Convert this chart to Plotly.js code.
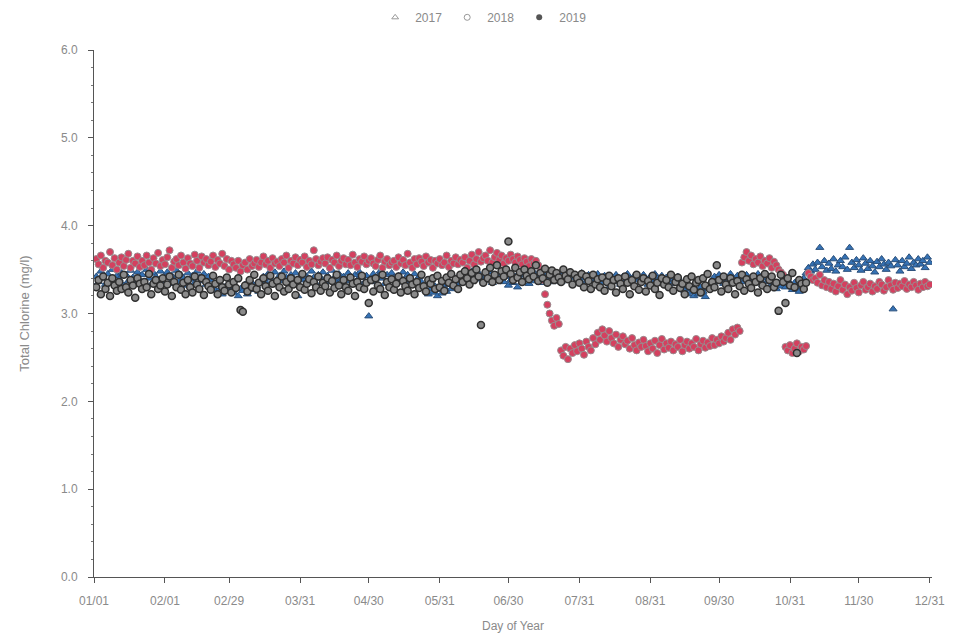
<!DOCTYPE html>
<html>
<head>
<meta charset="utf-8">
<script src="https://cdn.plot.ly/plotly-3.0.1.min.js"></script>
<style>html,body{margin:0;padding:0;background:#fff;}#chart{width:967px;height:641px;}</style>
</head>
<body>
<div id="chart"></div>
<script>
// Day of year offset (01/01 = 0), one reading per day
var days = [
  1,2,3,4,5,6,7,8,9,10, 11,12,13,14,15,16,17,18,19,20,
  21,22,23,24,25,26,27,28,29,30, 31,32,33,34,35,36,37,38,39,40,
  41,42,43,44,45,46,47,48,49,50, 51,52,53,54,55,56,57,58,59,60,
  61,62,63,64,65,66,67,68,69,70, 71,72,73,74,75,76,77,78,79,80,
  81,82,83,84,85,86,87,88,89,90, 91,92,93,94,95,96,97,98,99,100,
  101,102,103,104,105,106,107,108,109,110, 111,112,113,114,115,116,117,118,119,120,
  121,122,123,124,125,126,127,128,129,130, 131,132,133,134,135,136,137,138,139,140,
  141,142,143,144,145,146,147,148,149,150, 151,152,153,154,155,156,157,158,159,160,
  161,162,163,164,165,166,167,168,169,170, 171,172,173,174,175,176,177,178,179,180,
  181,182,183,184,185,186,187,188,189,190, 191,192,193,194,195,196,197,198,199,200,
  201,202,203,204,205,206,207,208,209,210, 211,212,213,214,215,216,217,218,219,220,
  221,222,223,224,225,226,227,228,229,230, 231,232,233,234,235,236,237,238,239,240,
  241,242,243,244,245,246,247,248,249,250, 251,252,253,254,255,256,257,258,259,260,
  261,262,263,264,265,266,267,268,269,270, 271,272,273,274,275,276,277,278,279,280,
  281,282,283,284,285,286,287,288,289,290, 291,292,293,294,295,296,297,298,299,300,
  301,302,303,304,305,306,307,308,309,310, 311,312,313,314,315,316,317,318,319,320,
  321,322,323,324,325,326,327,328,329,330, 331,332,333,334,335,336,337,338,339,340,
  341,342,343,344,345,346,347,348,349,350, 351,352,353,354,355,356,357,358,359,360,
  361,362,363,364,365
];

var y2017 = [
  3.42,3.36,3.48,3.40,3.33,3.45,3.38,3.50,3.35,3.43, 3.39,3.46,3.32,3.44,3.37,3.49,3.41,3.34,3.47,3.38,
  3.44,3.36,3.50,3.40,3.33,3.46,3.42,3.37,3.48,3.35, 3.41,3.47,3.34,3.43,3.38,3.49,3.36,3.44,3.40,3.32,
  3.46,3.39,3.43,3.35,3.48,3.41,3.37,3.45,3.33,3.42, 3.38,3.30,3.26,3.34,3.28,3.22,3.30,3.25,3.32,3.27,
  3.24,3.30,3.20,3.28,3.26,3.33,3.22,3.29,3.35,3.27, 3.31,3.25,3.38,3.42,3.36,3.45,3.40,3.34,3.47,3.39,
  3.43,3.37,3.48,3.41,3.35,3.44,3.40,3.46,3.20,3.38, 3.45,3.39,3.42,3.36,3.48,3.41,3.34,3.44,3.40,3.47,
  3.38,3.43,3.36,3.49,3.41,3.35,3.45,3.39,3.42,3.37, 3.46,3.40,3.33,3.44,3.38,3.47,3.41,3.35,3.43,2.97,
  3.39,3.45,3.36,3.42,3.48,3.40,3.34,3.44,3.38,3.46, 3.41,3.35,3.43,3.39,3.47,3.37,3.44,3.40,3.33,3.45,
  3.38,3.42,3.36,3.30,3.26,3.22,3.28,3.24,3.31,3.20, 3.27,3.23,3.30,3.25,3.33,3.28,3.36,3.40,3.34,3.43,
  3.38,3.45,3.40,3.36,3.48,3.42,3.39,3.46,3.41,3.37, 3.44,3.40,3.47,3.35,3.43,3.38,3.45,3.41,3.36,3.42,
  3.32,3.38,3.35,3.42,3.30,3.40,3.36,3.44,3.39,3.34, 3.41,3.37,3.45,3.40,3.35,3.43,3.38,3.46,3.41,3.36,
  3.44,3.39,3.42,3.36,3.47,3.40,3.38,3.45,3.41,3.35, 3.43,3.38,3.46,3.40,3.36,3.44,3.39,3.42,3.37,3.45,
  3.40,3.35,3.43,3.38,3.30,3.41,3.36,3.44,3.39,3.33, 3.42,3.37,3.45,3.40,3.34,3.43,3.38,3.41,3.36,3.44,
  3.39,3.33,3.42,3.37,3.45,3.40,3.35,3.43,3.38,3.41, 3.36,3.44,3.39,3.34,3.42,3.37,3.30,3.26,3.22,3.28,
  3.24,3.20,3.27,3.22,3.30,3.25,3.19,3.28,3.33,3.38, 3.42,3.36,3.44,3.39,3.34,3.41,3.37,3.45,3.40,3.35,
  3.43,3.38,3.41,3.36,3.44,3.40,3.34,3.42,3.37,3.45, 3.38,3.33,3.40,3.36,3.30,3.38,3.34,3.28,3.35,3.31,
  3.36,3.30,3.38,3.33,3.27,3.35,3.30,3.25,3.32,3.40, 3.46,3.52,3.48,3.56,3.50,3.58,3.75,3.53,3.60,3.49,
  3.57,3.51,3.62,3.48,3.55,3.60,3.53,3.64,3.50,3.75, 3.58,3.52,3.61,3.55,3.49,3.63,3.57,3.51,3.60,3.54,
  3.47,3.59,3.53,3.62,3.56,3.50,3.58,3.54,3.05,3.61, 3.55,3.48,3.60,3.53,3.57,3.64,3.51,3.58,3.55,3.62,
  3.56,3.60,3.52,3.64,3.58
];

var y2018 = [
  3.62,3.56,3.66,3.52,3.60,3.58,3.70,3.55,3.63,3.50, 3.58,3.64,3.54,3.61,3.68,3.52,3.60,3.57,3.65,3.53,
  3.60,3.55,3.66,3.58,3.50,3.63,3.57,3.69,3.54,3.61, 3.56,3.64,3.72,3.52,3.59,3.62,3.55,3.66,3.58,3.51,
  3.63,3.57,3.54,3.67,3.60,3.52,3.65,3.58,3.62,3.55, 3.59,3.66,3.53,3.61,3.57,3.68,3.54,3.62,3.50,3.60,
  3.56,3.52,3.60,3.48,3.55,3.58,3.50,3.62,3.54,3.57, 3.61,3.53,3.58,3.65,3.56,3.60,3.52,3.63,3.57,3.59,
  3.54,3.62,3.58,3.66,3.52,3.60,3.57,3.64,3.55,3.61, 3.58,3.65,3.53,3.60,3.56,3.72,3.62,3.55,3.59,3.63,
  3.57,3.64,3.52,3.61,3.58,3.66,3.54,3.60,3.63,3.56, 3.61,3.55,3.67,3.58,3.53,3.62,3.59,3.65,3.56,3.60,
  3.63,3.57,3.54,3.61,3.66,3.52,3.59,3.62,3.55,3.58, 3.60,3.53,3.64,3.57,3.61,3.55,3.68,3.58,3.52,3.62,
  3.56,3.63,3.59,3.54,3.65,3.58,3.61,3.52,3.60,3.57, 3.62,3.55,3.58,3.66,3.53,3.60,3.57,3.64,3.56,3.61,
  3.58,3.64,3.52,3.60,3.67,3.56,3.62,3.70,3.59,3.63, 3.66,3.60,3.72,3.58,3.64,3.69,3.61,3.66,3.57,3.63,
  3.60,3.67,3.62,3.58,3.65,3.61,3.56,3.63,3.59,3.54, 3.62,3.57,3.60,3.55,3.48,3.38,3.22,3.10,3.00,2.92,
  2.86,2.95,2.88,2.58,2.52,2.62,2.48,2.60,2.55,2.64, 2.57,2.66,2.60,2.53,2.68,2.62,2.58,2.72,2.65,2.78,
  2.70,2.82,2.75,2.68,2.80,2.72,2.66,2.76,2.62,2.70, 2.74,2.65,2.69,2.60,2.72,2.64,2.58,2.67,2.62,2.70,
  2.63,2.57,2.66,2.60,2.69,2.55,2.64,2.71,2.59,2.66, 2.61,2.68,2.58,2.65,2.62,2.70,2.57,2.64,2.68,2.60,
  2.66,2.62,2.71,2.58,2.65,2.69,2.61,2.67,2.63,2.72, 2.64,2.70,2.66,2.74,2.68,2.72,2.78,2.70,2.82,2.76,
  2.84,2.80,3.58,3.64,3.70,3.60,3.66,3.56,3.62,3.58, 3.65,3.54,3.60,3.57,3.63,3.52,3.59,3.55,3.50,3.47,
  3.44,2.62,2.58,2.64,2.55,2.60,2.66,2.57,2.62,2.59, 2.63,3.46,3.42,3.38,3.40,3.35,3.44,3.32,3.38,3.30,
  3.36,3.28,3.34,3.25,3.31,3.38,3.27,3.33,3.22,3.30, 3.26,3.35,3.29,3.24,3.32,3.36,3.27,3.30,3.34,3.25,
  3.31,3.28,3.36,3.33,3.26,3.30,3.38,3.32,3.27,3.35, 3.29,3.34,3.31,3.37,3.28,3.33,3.30,3.36,3.32,3.27,
  3.34,3.30,3.36,3.31,3.33
];

var y2019 = [
  3.30,3.38,3.22,3.42,3.28,3.35,3.20,3.40,3.32,3.26, 3.36,3.28,3.44,3.30,3.24,3.38,3.32,3.18,3.40,3.34,
  3.28,3.36,3.30,3.45,3.22,3.34,3.38,3.28,3.32,3.40, 3.25,3.33,3.42,3.20,3.36,3.30,3.44,3.27,3.35,3.22,
  3.38,3.30,3.24,3.42,3.33,3.28,3.40,3.21,3.36,3.31, 3.27,3.43,3.34,3.22,3.38,3.30,3.26,3.41,3.33,3.24,
  3.36,3.29,3.40,3.04,3.02,3.32,3.25,3.38,3.30,3.44, 3.28,3.35,3.22,3.40,3.31,3.26,3.43,3.34,3.20,3.37,
  3.30,3.42,3.25,3.36,3.28,3.40,3.33,3.21,3.38,3.30, 3.45,3.27,3.34,3.39,3.23,3.36,3.30,3.42,3.26,3.35,
  3.31,3.40,3.24,3.37,3.29,3.44,3.32,3.22,3.38,3.30, 3.26,3.41,3.34,3.20,3.36,3.30,3.43,3.28,3.35,3.12,
  3.38,3.25,3.40,3.32,3.28,3.44,3.21,3.36,3.30,3.39, 3.27,3.34,3.42,3.24,3.37,3.31,3.26,3.40,3.33,3.22,
  3.36,3.29,3.44,3.31,3.25,3.38,3.34,3.40,3.28,3.43, 3.30,3.37,3.26,3.41,3.35,3.45,3.32,3.39,3.28,3.44,
  3.36,3.48,3.40,3.33,3.46,3.38,3.50,3.42,2.87,3.35, 3.47,3.40,3.52,3.36,3.44,3.55,3.38,3.48,3.42,3.50,
  3.82,3.45,3.38,3.52,3.41,3.47,3.36,3.50,3.43,3.39, 3.48,3.42,3.55,3.37,3.46,3.40,3.51,3.35,3.44,3.49,
  3.38,3.46,3.41,3.36,3.50,3.43,3.39,3.47,3.33,3.44, 3.40,3.35,3.45,3.30,3.42,3.37,3.28,3.44,3.33,3.39,
  3.30,3.41,3.26,3.36,3.43,3.31,3.38,3.24,3.40,3.34, 3.28,3.42,3.35,3.22,3.38,3.31,3.44,3.27,3.36,3.40,
  3.25,3.37,3.32,3.43,3.28,3.35,3.21,3.40,3.33,3.38, 3.30,3.44,3.26,3.36,3.41,3.29,3.34,3.22,3.39,3.31,
  3.42,3.27,3.35,3.38,3.24,3.40,3.32,3.45,3.28,3.36, 3.30,3.55,3.38,3.25,3.42,3.33,3.28,3.40,3.35,3.22,
  3.37,3.31,3.44,3.26,3.39,3.34,3.29,3.42,3.36,3.24, 3.40,3.32,3.45,3.28,3.38,3.42,3.30,3.35,3.03,3.44,
  3.36,3.12,3.40,3.32,3.46,3.30,2.55,3.38,3.34,3.28, 3.35,null,null,null,null,null,null,null,null,null,
  null,null,null,null,null,null,null,null,null,null, null,null,null,null,null,null,null,null,null,null,
  null,null,null,null,null,null,null,null,null,null, null,null,null,null,null,null,null,null,null,null,
  null,null,null,null,null
];

var tickDays = [0,31,59,90,120,151,181,212,243,273,304,334,365];
var tickLabels = ["01/01","02/01","02/29","03/31","04/30","05/31","06/30","07/31","08/31","09/30","10/31","11/30","12/31"];
var yTicks = [0,1,2,3,4,5,6];
var yTickLabels = ["0.0","1.0","2.0","3.0","4.0","5.0","6.0"];
var seriesNames = ["2017","2018","2019"];

var txtColor = "#8a8a8a";
var fontFam = "Liberation Sans, Arial, sans-serif";

var traces = [
  {x: days, y: y2017, type: "scatter", mode: "markers", showlegend: false,
   marker: {symbol: "triangle-up", size: 7, color: "#3572b5", line: {color: "#2a4f7a", width: 1}}},
  {x: days, y: y2018, type: "scatter", mode: "markers", showlegend: false,
   marker: {symbol: "circle", size: 7, color: "#d4405f", line: {color: "#9a8a8e", width: 1}}},
  {x: days, y: y2019, type: "scatter", mode: "markers", showlegend: false,
   marker: {symbol: "circle", size: 7, color: "#8a8a8a", line: {color: "#2f2f2f", width: 1.5}}},
  // legend entries
  {x: [null], y: [null], type: "scatter", mode: "markers", name: seriesNames[0],
   marker: {symbol: "triangle-up-open", size: 6, color: "#999", line: {width: 1}}},
  {x: [null], y: [null], type: "scatter", mode: "markers", name: seriesNames[1],
   marker: {symbol: "circle-open", size: 6, color: "#999", line: {width: 1}}},
  {x: [null], y: [null], type: "scatter", mode: "markers", name: seriesNames[2],
   marker: {symbol: "circle", size: 6, color: "#555"}}
];

var layout = {
  width: 967, height: 641,
  margin: {l: 94, r: 35, t: 50, b: 64, autoexpand: false},
  paper_bgcolor: "#fff", plot_bgcolor: "#fff",
  font: {family: fontFam, size: 12, color: txtColor},
  showlegend: true,
  legend: {orientation: "h", x: 0.465, xanchor: "center", y: 1.062, yanchor: "middle",
           font: {size: 12, color: txtColor}, itemwidth: 30, tracegroupgap: 0},
  xaxis: {
    range: [0, 366], tickmode: "array", tickvals: tickDays, ticktext: tickLabels,
    showgrid: false, zeroline: false, showline: true, linecolor: "#555", linewidth: 1,
    ticks: "outside", ticklen: 5, tickcolor: "#555", ticklabelstandoff: 8,
    tickfont: {size: 12, color: txtColor},
    title: {text: "Day of Year", font: {size: 12, color: txtColor}, standoff: 14}
  },
  yaxis: {
    range: [0, 6], tickmode: "array", tickvals: yTicks, ticktext: yTickLabels,
    showgrid: false, zeroline: false, showline: true, linecolor: "#555", linewidth: 1,
    ticks: "outside", ticklen: 5, tickcolor: "#555", ticklabelstandoff: 8,
    minor: {dtick: 0.2, ticks: "outside", ticklen: 2, tickcolor: "#777", showgrid: false},
    tickfont: {size: 12, color: txtColor},
    title: {text: "Total Chlorine (mg/l)", font: {size: 13, color: txtColor}, standoff: 28}
  }
};

Plotly.newPlot("chart", traces, layout, {displayModeBar: false, staticPlot: true});
</script>
</body>
</html>
